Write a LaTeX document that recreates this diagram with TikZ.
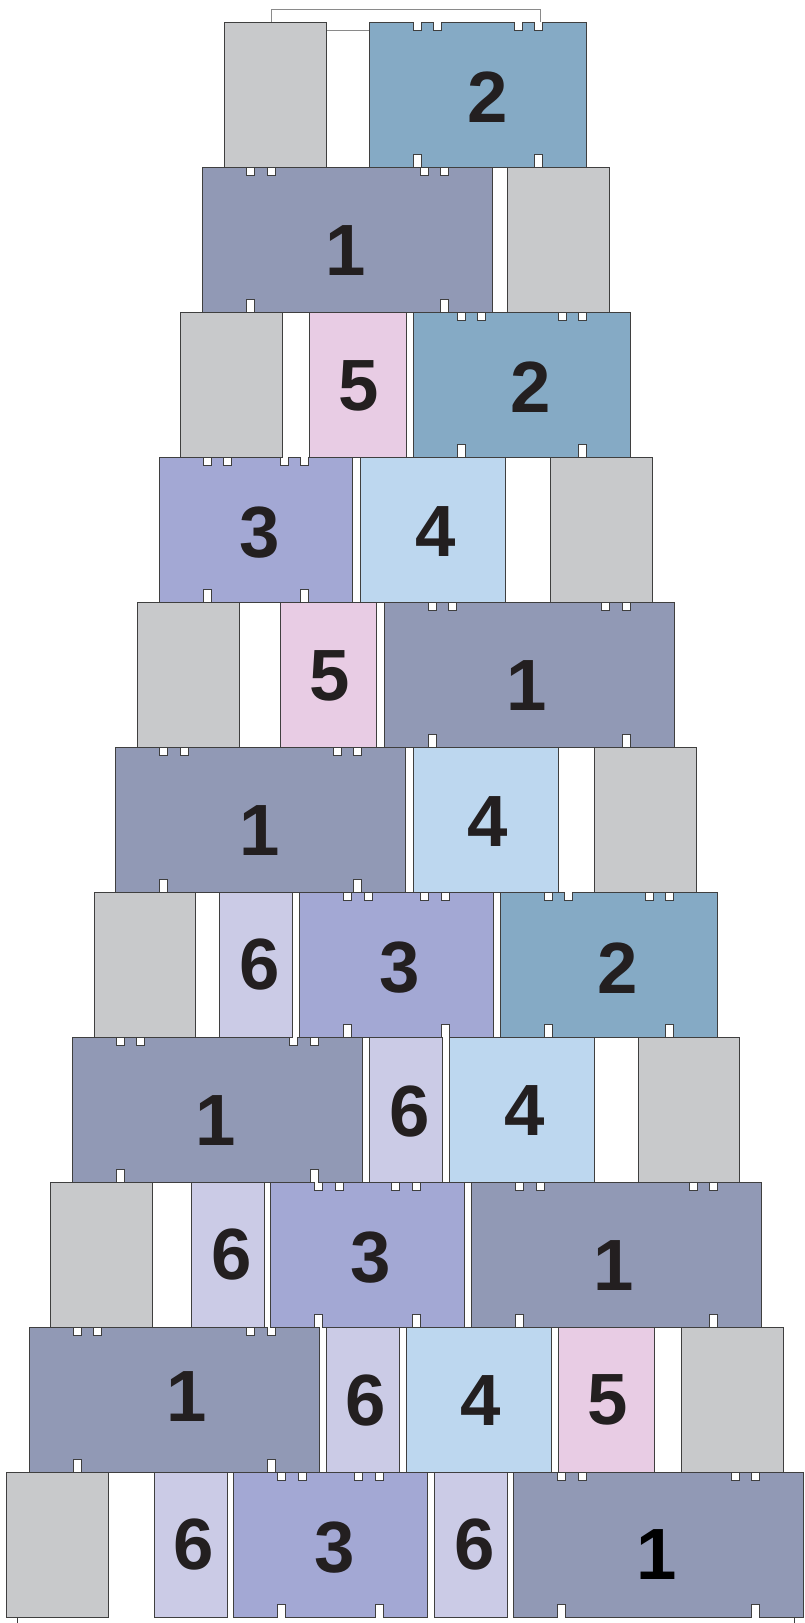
\documentclass[tikz,border=0pt]{standalone}
\usepackage{fontspec}
\setmainfont{Liberation Sans}
\definecolor{edgec}{HTML}{3F3F3F}
\definecolor{greyc}{HTML}{C8C9CB}
\definecolor{oneC}{HTML}{9199B5}
\definecolor{twoC}{HTML}{85AAC5}
\definecolor{threeC}{HTML}{A3A8D4}
\definecolor{fourC}{HTML}{BDD7EF}
\definecolor{fiveC}{HTML}{E8CCE4}
\definecolor{sixC}{HTML}{CBCBE6}
\definecolor{digitC}{HTML}{231F20}
\definecolor{frameC}{HTML}{8A8A8A}
\def\notchT{8.7}
\def\notchB{13}
\tikzset{
  bk/.style={draw=edgec, line width=1pt, line join=miter},
  dig/.style={font=\fontsize{72.6pt}{80pt}\selectfont\bfseries, text=digitC, inner sep=0pt, outer sep=0pt},
  framel/.style={draw=frameC, line width=1pt},
}
\newcommand\plainblk[4]{\path[bk, fill=#4] (#1,#2) rectangle ++(#3,145);}
\newcommand\notchblk[6]{%
 \begin{scope}[shift={(#1,#2)}]
 \path[bk, fill=#4] (0,0) \foreach \a in {#5}{ -- (\a,0) -- (\a,\notchT) -- (\a+8,\notchT) -- (\a+8,0)} -- (#3,0) -- (#3,145) \foreach \b in {#6}{ -- (\b+8,145) -- (\b+8,145-\notchB) -- (\b,145-\notchB) -- (\b,145)} -- (0,145) -- cycle;
 \end{scope}}
\newcommand\tOne[2]{\notchblk{#1}{#2}{290}{oneC}{44,64.5,217.5,238}{238,44}}
\newcommand\tTwo[2]{\notchblk{#1}{#2}{217.5}{twoC}{44,64.3,145.2,165.5}{165.5,44}}
\newcommand\tThree[2]{\notchblk{#1}{#2}{193.3}{threeC}{44,64.5,121,141.3}{141.3,44}}
\newcommand\tFour[2]{\plainblk{#1}{#2}{145}{fourC}}
\newcommand\tFive[2]{\plainblk{#1}{#2}{96.3}{fiveC}}
\newcommand\tSix[2]{\plainblk{#1}{#2}{72.7}{sixC}}
\newcommand\tGrey[2]{\plainblk{#1}{#2}{101.7}{greyc}}
\begin{document}
\begin{tikzpicture}[x=1pt,y=-1pt]
\useasboundingbox (0,0) rectangle (804,1623);
\fill[white] (0,0) rectangle (804,1623);
\clip (0,0) rectangle (804,1623);
% frame lines at the top
\draw[framel] (271,22) -- (271,9) -- (540.7,9) -- (540.7,22);
\draw[framel] (326.3,30.7) -- (369.3,30.7);
% row 1
\tGrey{224.3}{22} \tTwo{369.3}{22}
% row 2
\tOne{202.7}{167} \tGrey{507.3}{167}
% row 3
\tGrey{180.7}{312} \tFive{309.7}{312} \tTwo{413.3}{312}
% row 4
\tThree{159.3}{457} \tFour{360.3}{457} \tGrey{550.7}{457}
% row 5
\tGrey{137.5}{602} \tFive{280.3}{602} \tOne{384.4}{602}
% row 6
\tOne{115.7}{747} \tFour{413.5}{747} \tGrey{594.9}{747}
% row 7
\tGrey{94}{892} \tSix{219.7}{892} \tThree{299.7}{892} \tTwo{500.3}{892}
% row 8
\tOne{72.3}{1037} \tSix{369.3}{1037} \tFour{449.7}{1037} \tGrey{638}{1037}
% row 9
\tGrey{50.7}{1182} \tSix{191.7}{1182} \tThree{270.7}{1182} \tOne{471.7}{1182}
% row 10
\tOne{29}{1327} \tSix{326.3}{1327} \tFour{406.3}{1327} \tFive{558.3}{1327} \tGrey{681.7}{1327}
% row 11
\tGrey{6.7}{1472} \tSix{154.4}{1472} \tThree{233.8}{1472} \tSix{434.4}{1472} \tOne{513.8}{1472}
% ticks below
\draw[bk] (17,1617) -- (17,1630);
\draw[bk] (794.3,1617) -- (794.3,1630);
% labels
\node[dig] (a1) at (487.4,97.5) {2};
\node[dig] (b1) at (345.5,250.3) {1};
\node[dig] (c1) at (358.5,385.5) {5};
\node[dig] (c2) at (530.8,386.8) {2};
\node[dig] (d1) at (259.8,532.7) {3};
\node[dig] (d2) at (435.3,531.8) {4};
\node[dig] (e1) at (329.3,675.5) {5};
\node[dig] (e2) at (526.4,685.5) {1};
\node[dig] (f1) at (259.2,830.8) {1};
\node[dig] (f2) at (488,821.7) {4};
\node[dig] (g1) at (259.5,964.7) {6};
\node[dig] (g2) at (399.5,968) {3};
\node[dig] (g3) at (618,967.8) {2};
\node[dig] (h1) at (215.4,1120.8) {1};
\node[dig] (h2) at (409.3,1111.5) {6};
\node[dig] (h3) at (524.2,1111) {4};
\node[dig] (i1) at (231.3,1254.7) {6};
\node[dig] (i2) at (370.8,1258) {3};
\node[dig] (i3) at (613.9,1265.5) {1};
\node[dig] (j1) at (186.9,1397) {1};
\node[dig] (j2) at (365.8,1400.3) {6};
\node[dig] (j3) at (480.3,1401) {4};
\node[dig] (j4) at (607.5,1399.7) {5};
\node[dig] (k1) at (194,1544.5) {6};
\node[dig] (k2) at (335,1547.5) {3};
\node[dig] (k3) at (474.9,1544.5) {6};
\node[dig, text=black] (k4) at (656.7,1555) {1};
\end{tikzpicture}
\end{document}
